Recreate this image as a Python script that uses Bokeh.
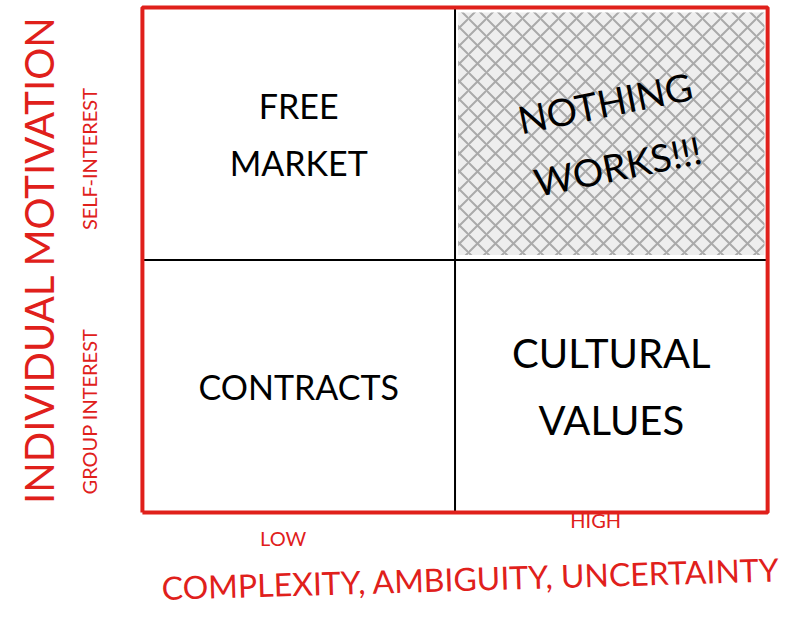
from bokeh.plotting import figure
from bokeh.models import ColumnDataSource
from bokeh.core.properties import value
from bokeh.embed import file_html
from bokeh.resources import INLINE
import math

RED = "#e0201b"
FONT = value("Lato")

# quadrant contents: column (0 low, 1 high), row (0 group, 1 self)
quad_col = [0, 1, 0, 1]
quad_row = [1, 1, 0, 0]
quad_text = ["FREE\nMARKET", "NOTHING\nWORKS!!!", "CONTRACTS", "CULTURAL\nVALUES"]
quad_shaded = [False, True, False, False]

x_labels = ["LOW", "HIGH"]
y_labels = ["GROUP INTEREST", "SELF-INTEREST"]
x_title = "COMPLEXITY, AMBIGUITY, UNCERTAINTY"
y_title = "INDIVIDUAL MOTIVATION"

p = figure(width=784, height=608, x_range=(-0.454, 2.054), y_range=(-0.38, 2.028),
           output_backend="svg", toolbar_location=None, min_border=0)
p.axis.visible = False
p.grid.visible = False
p.outline_line_color = None

# shaded quadrant
for c, r, s in zip(quad_col, quad_row, quad_shaded):
    if s:
        p.rect(x=c + 0.5, y=r + 0.5, width=0.98, height=0.96, fill_color="#dddddd",
               fill_alpha=0.5, line_color=None, hatch_pattern="x",
               hatch_color="#aaaaaa", hatch_scale=18, hatch_weight=2)

# dividers
p.line([1, 1], [0, 2], line_color="black", line_width=2)
p.line([0, 2], [1, 1], line_color="black", line_width=2)
# outer frame
p.line([0, 2, 2, 0, 0], [0, 0, 2, 2, 0], line_color=RED, line_width=4)

src = ColumnDataSource(dict(
    x=[c + 0.5 for c in quad_col],
    y=[r + 0.5 for r in quad_row],
    text=quad_text,
    angle=[0.2 if s else 0 for s in quad_shaded],
    size=["38px" if s else ("40px" if t == "CULTURAL\nVALUES" else "34px") for s, t in zip(quad_shaded, quad_text)],
))
p.text("x", "y", text="text", angle="angle", text_font_size="size", source=src,
       text_font=FONT, text_align="center", text_baseline="middle", text_color="black",
       text_line_height=1.4)

# x categories
p.text([0.45, 1.45], [-0.1, -0.03], text=x_labels, text_font=FONT, text_color=RED,
       text_font_size="20px", text_align="center", text_baseline="middle")
# y categories
p.text([-0.17, -0.17], [0.4, 1.4], text=y_labels, angle=math.pi / 2, text_font=FONT,
       text_color=RED, text_font_size="20px", text_align="center", text_baseline="middle")
# titles
p.text([1.05], [-0.26], text=[x_title], text_font=FONT, text_color=RED,
       text_font_size="32px", text_align="center", text_baseline="middle", angle=0.03)
p.text([-0.33], [1.0], text=[y_title], angle=math.pi / 2, text_font=FONT, text_color=RED,
       text_font_size="40px", text_align="center", text_baseline="middle")

open("out.html", "w").write(file_html(p, INLINE))
